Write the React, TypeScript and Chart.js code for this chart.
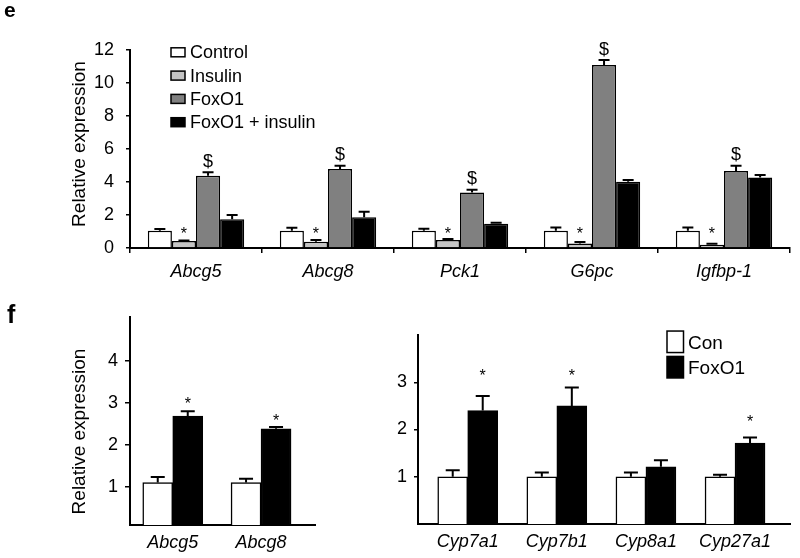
import React, { useEffect, useRef } from 'react';
import { Chart, registerables } from 'chart.js';

Chart.register(...registerables);

const FONT = "'Liberation Sans', Arial, Helvetica, sans-serif";

// ---------- Panel e ----------
const eGenes = ['Abcg5', 'Abcg8', 'Pck1', 'G6pc', 'Igfbp-1'];
const eSeriesNames = ['Control', 'Insulin', 'FoxO1', 'FoxO1 + insulin'];
const eControl = [1.05, 1.05, 1.05, 1.05, 1.05];
const eControlErr = [1.15, 1.23, 1.17, 1.25, 1.25];
const eInsulin = [0.42, 0.38, 0.48, 0.28, 0.2];
const eInsulinErr = [0.46, 0.48, 0.55, 0.36, 0.26];
const eFoxO1 = [4.38, 4.79, 3.37, 11.09, 4.67];
const eFoxO1Err = [4.59, 4.99, 3.53, 11.39, 4.99];
const eFoxIns = [1.74, 1.86, 1.47, 4.02, 4.28];
const eFoxInsErr = [2.0, 2.2, 1.53, 4.12, 4.42];
const eInsulinMarks = ['*', '*', '*', '*', '*'];
const eInsulinMarkY = [1.1, 1.1, 1.1, 1.1, 1.1];
const eFoxO1Marks = ['$', '$', '$', '$', '$'];
const eYTicks = [0, 2, 4, 6, 8, 10, 12];

// ---------- Panel f (left) ----------
const fLeftGenes = ['Abcg5', 'Abcg8'];
const fLeftCon = [1.11, 1.11];
const fLeftConErr = [1.24, 1.2];
const fLeftFox = [2.69, 2.39];
const fLeftFoxErr = [2.81, 2.43];
const fLeftFoxMarks = ['*', '*'];
const fLeftFoxMarkY = [3.07, 2.68];
const fLeftYTicks = [1, 2, 3, 4];

// ---------- Panel f (right) ----------
const fRightGenes = ['Cyp7a1', 'Cyp7b1', 'Cyp8a1', 'Cyp27a1'];
const fSeriesNames = ['Con', 'FoxO1'];
const fRightCon = [1.0, 1.0, 1.0, 1.0];
const fRightConErr = [1.14, 1.09, 1.09, 1.04];
const fRightFox = [2.4, 2.5, 1.21, 1.71];
const fRightFoxErr = [2.71, 2.89, 1.35, 1.83];
const fRightFoxMarks = ['*', '*', '', '*'];
const fRightFoxMarkY = [3.22, 3.22, null, 2.24];
const fRightYTicks = [1, 2, 3];

const COLORS = { white: '#ffffff', light: '#c4c4c4', mid: '#808080', black: '#000000' };

function errorBarPlugin(cap: number, lineWidth: number, markGap: number) {
  return {
    id: 'errorBars',
    afterDatasetsDraw(chart: any) {
      const ctx = chart.ctx;
      const yScale = chart.scales.y;
      chart.data.datasets.forEach((ds: any, di: number) => {
        const meta = chart.getDatasetMeta(di);
        meta.data.forEach((bar: any, i: number) => {
          ctx.save();
          const x = bar.x;
          let yTop = bar.y;
          if (ds.errTop && ds.errTop[i] != null) {
            yTop = yScale.getPixelForValue(ds.errTop[i]);
            ctx.strokeStyle = '#000';
            ctx.lineWidth = lineWidth;
            ctx.beginPath();
            ctx.moveTo(x, bar.y);
            ctx.lineTo(x, yTop);
            ctx.moveTo(x - cap / 2, yTop);
            ctx.lineTo(x + cap / 2, yTop);
            ctx.stroke();
          }
          const mark = ds.marks ? ds.marks[i] : '';
          if (mark) {
            const cy = ds.markY && ds.markY[i] != null ? yScale.getPixelForValue(ds.markY[i]) : yTop - markGap;
            ctx.font = mark === '$' ? `18px ${FONT}` : `16px ${FONT}`;
            ctx.fillStyle = '#000';
            ctx.textAlign = 'center';
            ctx.textBaseline = 'alphabetic';
            const m = ctx.measureText(mark);
            const asc = m.actualBoundingBoxAscent;
            const desc = m.actualBoundingBoxDescent;
            ctx.fillText(mark, x, cy + (asc - desc) / 2);
          }
          ctx.restore();
        });
      });
    },
  };
}

type TextItem = {
  text: string; x: number; y: number; font: string;
  rotate?: number; align?: CanvasTextAlign; baseline?: CanvasTextBaseline;
};

function textPlugin(items: TextItem[]) {
  return {
    id: 'freeText',
    afterDraw(chart: any) {
      const ctx = chart.ctx;
      items.forEach((it) => {
        ctx.save();
        ctx.font = it.font;
        ctx.fillStyle = '#000';
        ctx.textAlign = it.align || 'center';
        ctx.textBaseline = it.baseline || 'middle';
        ctx.translate(it.x, it.y);
        if (it.rotate) ctx.rotate(it.rotate);
        ctx.fillText(it.text, 0, 0);
        ctx.restore();
      });
    },
  };
}

function legendPlugin(o: { boxX: number; boxW: number; boxH: number; textX: number; y0: number; dy: number; boxDy: number; font: string; lw: number }) {
  return {
    id: 'customLegend',
    afterDraw(chart: any) {
      const ctx = chart.ctx;
      chart.data.datasets.forEach((ds: any, i: number) => {
        const cy = o.y0 + i * o.dy;
        ctx.save();
        ctx.fillStyle = ds.backgroundColor;
        ctx.strokeStyle = '#000';
        ctx.lineWidth = o.lw;
        const by = cy + o.boxDy - o.boxH / 2;
        ctx.fillRect(o.boxX, by, o.boxW, o.boxH);
        ctx.strokeRect(o.boxX, by, o.boxW, o.boxH);
        ctx.font = o.font;
        ctx.fillStyle = '#000';
        ctx.textAlign = 'left';
        ctx.textBaseline = 'middle';
        ctx.fillText(ds.label, o.textX, cy);
        ctx.restore();
      });
    },
  };
}

const tickFont = { family: FONT, size: 18 };
const catFont = { family: FONT, size: 18, style: 'italic' as const };

function buildE(): any {
  const mk = (label: string, data: number[], color: string, err: number[], extra: any = {}) => ({
    label, data, backgroundColor: color, borderColor: '#000', borderWidth: 1.5, errTop: err, ...extra,
  });
  return {
    type: 'bar',
    data: {
      labels: eGenes,
      datasets: [
        mk(eSeriesNames[0], eControl, COLORS.white, eControlErr),
        mk(eSeriesNames[1], eInsulin, COLORS.light, eInsulinErr, { marks: eInsulinMarks, markY: eInsulinMarkY }),
        mk(eSeriesNames[2], eFoxO1, COLORS.mid, eFoxO1Err, { marks: eFoxO1Marks }),
        mk(eSeriesNames[3], eFoxIns, COLORS.black, eFoxInsErr),
      ],
    },
    options: {
      responsive: false,
      animation: false,
      events: [],
      layout: { padding: { top: 50, right: 10, left: 0, bottom: 0 } },
      datasets: { bar: { categoryPercentage: 0.73, barPercentage: 1 } },
      plugins: { legend: { display: false }, tooltip: { enabled: false } },
      scales: {
        x: {
          type: 'category',
          offset: true,
          grid: { display: true, offset: true, drawOnChartArea: false, drawTicks: true, tickLength: 5, color: '#000', lineWidth: 1.5 },
          border: { display: true, color: '#000', width: 2 },
          ticks: { color: '#000', font: catFont, padding: 8, maxRotation: 0, autoSkip: false },
          afterFit: (s: any) => { s.height = 42; },
        },
        y: {
          min: 0, max: 12,
          afterBuildTicks: (s: any) => { s.ticks = eYTicks.map((v) => ({ value: v })); },
          grid: { drawOnChartArea: false, drawTicks: true, tickLength: 4, color: '#000', lineWidth: 1.5 },
          border: { display: true, color: '#000', width: 2 },
          ticks: { color: '#000', font: tickFont, padding: 12 },
          afterFit: (s: any) => { s.width = 130; },
        },
      },
    },
    plugins: [
      errorBarPlugin(11, 2, 11),
      legendPlugin({ boxX: 171, boxW: 14, boxH: 9, textX: 190, y0: 53.3, dy: 23.3, boxDy: -1, font: `18px ${FONT}`, lw: 1.5 }),
      textPlugin([
        { text: 'e', x: 4, y: 16.7, font: `bold 21px ${FONT}`, align: 'left', baseline: 'alphabetic' },
        { text: 'Relative expression', x: 80, y: 144, font: `19px ${FONT}`, rotate: -Math.PI / 2 },
      ]),
    ],
  };
}

function buildF(
  genes: string[], con: number[], conErr: number[], fox: number[], foxErr: number[],
  marks: string[], markY: (number | null)[], yTicks: number[],
  xMin: number, xMax: number, yMin: number, yMax: number,
  yWidth: number, xHeight: number, pad: any, extraPlugins: any[], tickLen: number, tickPad: number,
): any {
  return {
    type: 'bar',
    data: {
      datasets: [
        {
          label: fSeriesNames[0], data: con.map((y, i) => ({ x: i, y })), backgroundColor: COLORS.white,
          borderColor: '#000', borderWidth: 1.5, errTop: conErr,
        },
        {
          label: fSeriesNames[1], data: fox.map((y, i) => ({ x: i, y })), backgroundColor: COLORS.black,
          borderColor: '#000', borderWidth: 1.5, errTop: foxErr, marks, markY,
        },
      ],
    },
    options: {
      responsive: false,
      animation: false,
      events: [],
      layout: { padding: pad },
      datasets: { bar: { barThickness: 30, grouped: true } },
      plugins: { legend: { display: false }, tooltip: { enabled: false } },
      scales: {
        x: {
          type: 'linear',
          min: xMin, max: xMax,
          offset: false,
          afterBuildTicks: (s: any) => { s.ticks = genes.map((_, i) => ({ value: i })); },
          grid: { display: false, drawTicks: false, offset: false },
          border: { display: true, color: '#000', width: 2 },
          ticks: {
            color: '#000', font: catFont, padding: 7, maxRotation: 0, autoSkip: false,
            callback: (v: any) => genes[Math.round(Number(v))] ?? '',
          },
          afterFit: (s: any) => { s.height = xHeight; },
        },
        y: {
          min: yMin, max: yMax,
          afterBuildTicks: (s: any) => { s.ticks = yTicks.map((v) => ({ value: v })); },
          grid: { drawOnChartArea: false, drawTicks: true, tickLength: tickLen, color: '#000', lineWidth: 1.5 },
          border: { display: true, color: '#000', width: 2 },
          ticks: { color: '#000', font: tickFont, padding: tickPad },
          afterFit: (s: any) => { s.width = yWidth; },
        },
      },
    },
    plugins: [errorBarPlugin(14, 2, 12), ...extraPlugins],
  };
}

function buildFLeft(): any {
  return buildF(
    fLeftGenes, fLeftCon, fLeftConErr, fLeftFox, fLeftFoxErr, fLeftFoxMarks, fLeftFoxMarkY, fLeftYTicks,
    -0.484, 1.611, 0.1, 5.05, 130, 33, { top: 27, right: 85, left: 0, bottom: 0 },
    [
      textPlugin([
        { text: 'f', x: 7, y: 33.3, font: `bold 25px ${FONT}`, align: 'left', baseline: 'alphabetic' },
        { text: 'Relative expression', x: 80, y: 141.5, font: `19px ${FONT}`, rotate: -Math.PI / 2 },
      ]),
    ],
    5, 7,
  );
}

function buildFRight(): any {
  return buildF(
    fRightGenes, fRightCon, fRightConErr, fRightFox, fRightFoxErr, fRightFoxMarks, fRightFoxMarkY, fRightYTicks,
    -0.558, 3.617, 0, 4.0, 28, 34, { top: 45, right: 10, left: 0, bottom: 0 },
    [
      legendPlugin({ boxX: 277, boxW: 16.5, boxH: 21.5, textX: 298, y0: 53.8, dy: 25.4, boxDy: -2, font: `19px ${FONT}`, lw: 1.5 }),
    ],
    4, 7,
  );
}

function ChartCanvas({ build, left, top, width, height }: { build: () => any; left: number; top: number; width: number; height: number }) {
  const ref = useRef<HTMLCanvasElement | null>(null);
  useEffect(() => {
    if (!ref.current) return;
    const chart = new Chart(ref.current, build());
    return () => chart.destroy();
  }, [build]);
  return (
    <canvas
      ref={ref}
      width={width}
      height={height}
      style={{ position: 'absolute', left, top, width, height }}
    />
  );
}

export default function App() {
  return (
    <div style={{ position: 'absolute', left: 0, top: 0, width: 800, height: 558, background: '#fff', overflow: 'hidden' }}>
      <ChartCanvas build={buildE} left={0} top={0} width={800} height={290} />
      <ChartCanvas build={buildFLeft} left={0} top={290} width={400} height={268} />
      <ChartCanvas build={buildFRight} left={390} top={290} width={410} height={268} />
    </div>
  );
}
